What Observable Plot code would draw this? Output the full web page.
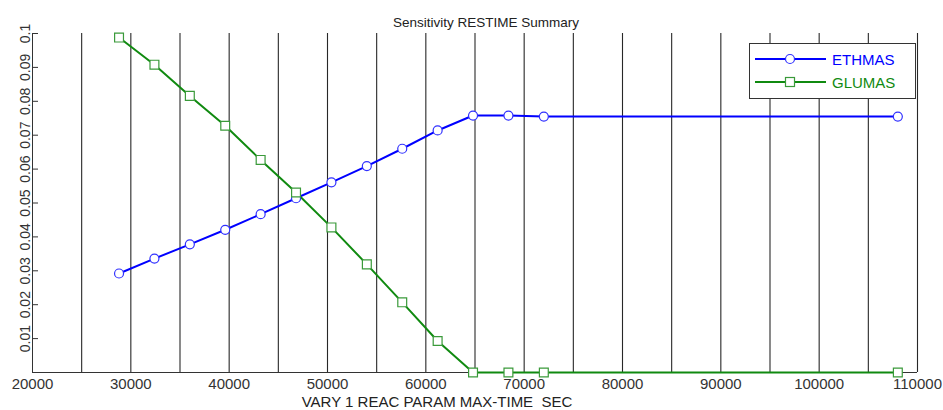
<!DOCTYPE html>
<html>
<head>
<meta charset="utf-8">
<script src="https://cdn.jsdelivr.net/npm/d3@7"></script>
<script src="https://cdn.jsdelivr.net/npm/@observablehq/plot@0.6"></script>
<style>
  html, body { margin: 0; padding: 0; background: #fff; }
  #wrap { position: relative; width: 943px; height: 410px; font-family: "Liberation Sans", Arial, sans-serif; }
  #legend { position: absolute; left: 749px; top: 43px; width: 167px; height: 56px; background: #fff; border: 1px solid #333; box-sizing: border-box; }
  #legend svg { position: absolute; left: 0; top: 0; }
</style>
</head>
<body>
<div id="wrap"></div>
<script>
// ---- data ----
const maxTime = [28800, 32400, 36000, 39600, 43200, 46800, 50400, 54000, 57600, 61200, 64800, 68400, 72000, 108000];
const ethmas  = [0.0292, 0.0336, 0.0378, 0.0421, 0.0467, 0.0514, 0.0561, 0.0609, 0.0660, 0.0714, 0.0758, 0.0758, 0.0755, 0.0755];
const glumas  = [0.0988, 0.0908, 0.0816, 0.0728, 0.0627, 0.0531, 0.0428, 0.0319, 0.0207, 0.0093, 0, 0, 0, 0];
const seriesNames = ["ETHMAS", "GLUMAS"];
const xTicks = [20000, 30000, 40000, 50000, 60000, 70000, 80000, 90000, 100000, 110000];
const xGrid = [25000, 30000, 35000, 40000, 45000, 50000, 55000, 60000, 65000, 70000, 75000, 80000, 85000, 90000, 95000, 100000, 105000, 110000];
const yTicks = [0.01, 0.02, 0.03, 0.04, 0.05, 0.06, 0.07, 0.08, 0.09, 0.1];
const yTickLabels = ["0.01", "0.02", "0.03", "0.04", "0.05", "0.06", "0.07", "0.08", "0.09", "0.1"];
const titleText = "Sensitivity RESTIME Summary";
const xLabelText = "VARY 1 REAC PARAM MAX-TIME  SEC";

const colors = {ETHMAS: "#0000ff", GLUMAS: "#108a10"};
const markerStroke = {ETHMAS: "#3030ff", GLUMAS: "#3a9a3a"};

const eth = maxTime.map((x, i) => ({x, y: ethmas[i]}));
const glu = maxTime.map((x, i) => ({x, y: glumas[i]}));

const font = '"Liberation Sans", Arial, sans-serif';

const chart = Plot.plot({
  width: 943,
  height: 410,
  marginLeft: 32,
  marginRight: 26,
  marginTop: 33,
  marginBottom: 38,
  style: {background: "#fff", fontFamily: font, color: "#222"},
  x: {domain: [20000, 110000]},
  y: {domain: [0, 0.1]},
  marks: [
    Plot.gridX(xGrid, {stroke: "#111", strokeOpacity: 0.9, strokeWidth: 1.1}),
    Plot.ruleX([20000], {stroke: "#333", strokeWidth: 1}),
    Plot.ruleY([0], {stroke: "#333", strokeWidth: 1}),
    Plot.axisY(yTicks, {tickSize: 6, dx: 6, tickFormat: () => "", stroke: "#333", label: null}),
    Plot.axisY(yTicks, {tickSize: 0, tickPadding: 3, tickRotate: -90, fontSize: 14, fill: "#333",
      tickFormat: (d) => yTickLabels[yTicks.indexOf(d)], label: null}),
    Plot.axisX(xTicks, {tickSize: 0, tickPadding: 6, fontSize: 15, fill: "#333",
      tickFormat: d3.format("d"), label: null}),
    Plot.line(eth, {x: "x", y: "y", stroke: colors.ETHMAS, strokeWidth: 2}),
    Plot.line(glu, {x: "x", y: "y", stroke: colors.GLUMAS, strokeWidth: 2}),
    Plot.dot(eth, {x: "x", y: "y", r: 4.5, fill: "#fff", stroke: markerStroke.ETHMAS, strokeWidth: 1.2}),
    Plot.dot(glu, {x: "x", y: "y", r: 5, symbol: "square", fill: "#fff", stroke: markerStroke.GLUMAS, strokeWidth: 1.2}),
    Plot.text([titleText], {frameAnchor: "top", dx: 11, dy: -7, lineAnchor: "bottom", fontSize: 13.5, fill: "#222"}),
    Plot.text([xLabelText], {frameAnchor: "bottom", dx: -38, dy: 34, lineAnchor: "bottom", fontSize: 15, fill: "#222"})
  ]
});

const wrap = document.getElementById("wrap");
wrap.appendChild(chart);

// legend (HTML overlay)
const legend = document.createElement("div");
legend.id = "legend";
const ns = "http://www.w3.org/2000/svg";
const svg = document.createElementNS(ns, "svg");
svg.setAttribute("width", 167);
svg.setAttribute("height", 56);
seriesNames.forEach((name, i) => {
  const cy = 15 + i * 23;
  const line = document.createElementNS(ns, "line");
  line.setAttribute("x1", 5); line.setAttribute("x2", 76);
  line.setAttribute("y1", cy); line.setAttribute("y2", cy);
  line.setAttribute("stroke", colors[name]); line.setAttribute("stroke-width", 2);
  svg.appendChild(line);
  let m;
  if (i === 0) {
    m = document.createElementNS(ns, "circle");
    m.setAttribute("cx", 40); m.setAttribute("cy", cy); m.setAttribute("r", 4.5);
  } else {
    m = document.createElementNS(ns, "rect");
    m.setAttribute("x", 35.5); m.setAttribute("y", cy - 4.5); m.setAttribute("width", 9); m.setAttribute("height", 9);
  }
  m.setAttribute("fill", "#fff"); m.setAttribute("stroke", markerStroke[name]); m.setAttribute("stroke-width", 1.2);
  svg.appendChild(m);
  const t = document.createElementNS(ns, "text");
  t.setAttribute("x", 82); t.setAttribute("y", cy + 5.5);
  t.setAttribute("fill", colors[name]);
  t.setAttribute("font-size", 15);
  t.setAttribute("font-family", font);
  t.textContent = name;
  svg.appendChild(t);
});
legend.appendChild(svg);
wrap.appendChild(legend);
</script>
</body>
</html>
